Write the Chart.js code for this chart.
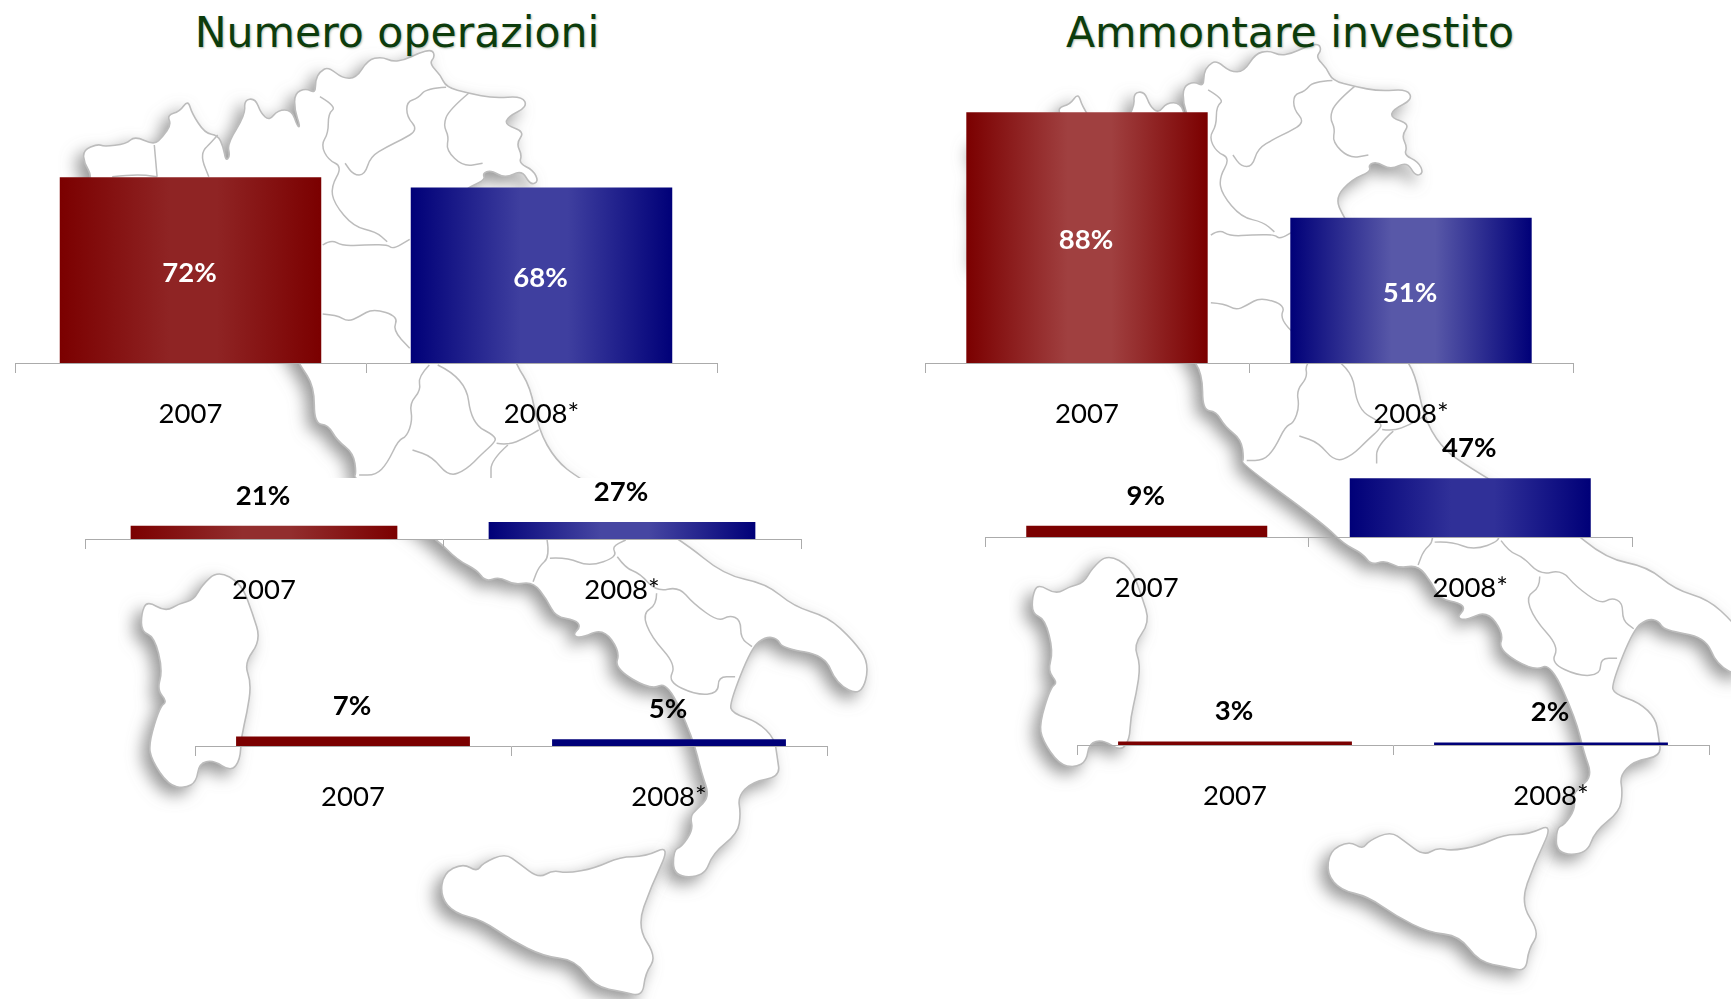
<!DOCTYPE html>
<html lang="it">
<head>
<meta charset="utf-8">
<title>Numero operazioni / Ammontare investito</title>
<script src="https://cdn.jsdelivr.net/npm/chart.js@4"></script>
<style>
  html,body{margin:0;padding:0;background:#fff;width:1731px;height:999px;overflow:hidden}
  #stage{position:relative;width:1731px;height:999px}
  #map{position:absolute;left:0;top:0}
  canvas{position:absolute}
  .title{position:absolute;top:2px;height:60px;line-height:60px;width:800px;text-align:center;
    font-family:"DejaVu Sans",sans-serif;font-size:42.6px;color:#0c3c0c;
    text-shadow:1px 1px 2px rgba(120,140,120,.55)}
</style>
</head>
<body>
<div id="stage">
  <svg id="map" width="1731" height="999" xmlns="http://www.w3.org/2000/svg"></svg>
  <div class="title" style="left:-3px">Numero operazioni</div>
  <div class="title" style="left:890px">Ammontare investito</div>
</div>
<script>
// ---------- data ----------
const categories = ['2007', '2008*'];
const numeroNord = [72, 68];
const numeroCentro = [21, 27];
const numeroSud = [7, 5];
const ammontareNord = [88, 51];
const ammontareCentro = [9, 47];
const ammontareSud = [3, 2];

// ---------- panel layout and style (separate from the data) ----------
const RED = '#7b0000', BLUE = '#000078';
const panels = [
  {v:numeroNord,     x0:15,   x1:717,  axis:363, h:258, inside:true,  bar:.745,mid:['#8f2424','#3f3f9f']},
  {v:numeroCentro,   x0:85,   x1:801,  axis:539, h:63,  inside:false, bar:.745,mid:['#922e2e','#4646a2']},
  {v:numeroSud,      x0:195,  x1:827,  axis:746, h:135, inside:false, bar:.74, mid:[RED,BLUE]},
  {v:ammontareNord,  x0:925,  x1:1573, axis:363, h:285, inside:true,  bar:.745,mid:['#a04040','#5858a8']},
  {v:ammontareCentro,x0:985,  x1:1632, axis:537, h:125, inside:false, bar:.745,mid:[RED,'#303098']},
  {v:ammontareSud,   x0:1077, x1:1709, axis:745, h:120, inside:false, bar:.74, mid:[RED,BLUE]}
];
const AXIS_BOX = 70, PAD = 1;

// ---------- decorative map backdrop ----------
const Z1 = (x,y)=>[x/1.782, y/3];
const Z2 = (x,y)=>[x/1.782, 480+y/3];
const parse = (s,f)=>s.trim().split(/\s+/).map(p=>{const [a,b]=p.split(',').map(Number);return f(a,b);});
function smooth(pts,closed){
  const m=(a,b)=>[(a[0]+b[0])/2,(a[1]+b[1])/2], f=n=>n.toFixed(1);
  if(closed){
    let s=m(pts[pts.length-1],pts[0]), d=`M${f(s[0])} ${f(s[1])}`;
    pts.forEach((p,i)=>{const e=m(p,pts[(i+1)%pts.length]);d+=`Q${f(p[0])} ${f(p[1])} ${f(e[0])} ${f(e[1])}`;});
    return d+'Z';
  }
  let d=`M${f(pts[0][0])} ${f(pts[0][1])}`;
  for(let i=1;i<pts.length-1;i++){const e=m(pts[i],pts[i+1]);d+=`Q${f(pts[i][0])} ${f(pts[i][1])} ${f(e[0])} ${f(e[1])}`;}
  const l=pts[pts.length-1];return d+`L${f(l[0])} ${f(l[1])}`;
}
const mainland = [
 ...parse(`165,530 150,490 148,450 175,432 185,440 225,432 240,408 275,435 290,410 305,375 298,345 320,335 335,300 342,340 365,400 388,405 398,440 402,482 410,470 405,430 437,345 435,300 455,295 465,340 480,362 495,330 520,330 530,380 535,380 525,330 525,280 545,265 562,280 562,240 570,215 585,200 610,235 635,235 655,180 680,170 700,185 720,180 745,160 770,148 775,170 765,190 785,225 795,262 835,280 880,295 930,288 940,320 905,350 900,375 935,395 920,430 930,465 925,490 950,510 960,545 945,555 930,510 900,535 875,510 860,520 865,540 830,565 800,620 815,680 860,800 900,1000 920,1095 945,1160 960,1290 990,1380 1030,1434`,Z1),
 ...parse(`1215,180 1290,285 1365,310 1415,380 1475,410 1520,480 1550,550 1535,650 1490,610 1470,525 1395,505 1385,475 1365,470 1340,500 1300,670 1305,700 1350,725 1380,775 1385,830 1390,890 1340,905 1315,950 1320,1000 1315,1060 1270,1120 1255,1190 1200,1190 1200,1110 1215,1100 1235,1050 1230,1010 1240,990 1265,950 1250,880 1235,775 1190,605 1160,630 1095,565 1105,515 1075,445 1035,475 1020,465 1035,440 1025,420 990,410 975,360 950,305 915,315 890,290 865,305 850,270 815,240 780,180`,Z2),
 ...parse(`630,1434 635,1420 630,1360 600,1320 585,1275 560,1270 560,1160 535,1095 500,1000 400,800 300,720 200,790 150,850 160,690 150,610`,Z1)
];
const sardinia = parse(`388,272 430,310 450,400 465,480 435,550 448,610 440,700 430,770 428,840 412,875 380,840 355,850 350,905 330,925 300,915 270,840 265,790 285,680 298,665 280,630 290,570 275,470 252,455 252,400 262,362 295,395 320,370 345,360 360,315`,Z2);
const sicily = parse(`1195,1095 1150,1130 1105,1130 1060,1165 1010,1180 985,1170 960,1195 925,1150 900,1120 860,1150 850,1175 825,1150 790,1180 785,1250 810,1300 860,1320 910,1380 970,1430 1025,1440 1060,1520 1110,1535 1145,1550 1150,1480 1170,1430 1135,1340 1160,1220`,Z2);
const borders = [
 parse(`275,435 280,530`,Z1),
 parse(`388,405 375,430 362,450 360,480 372,530`,Z1),
 parse(`570,290 600,320 585,340 585,400 572,435 585,480 610,500 590,560 595,610 630,680 670,695 690,725`,Z1),
 parse(`795,262 760,265 745,295 725,305 725,350 745,390 715,420 690,440 660,470 650,525 630,525 615,490`,Z1),
 parse(`835,280 800,330 790,375 800,410 795,450 825,500 860,490`,Z1),
 parse(`200,530 240,522 280,530`,Z1),
 parse(`575,735 590,718 610,738 650,735 690,733 700,748 730,718`,Z1),
 parse(`575,942 600,945 620,965 640,950 665,925 710,950 700,990 730,1045`,Z1),
 parse(`765,1095 745,1130 750,1170 730,1210 735,1260 725,1310 710,1320 690,1390 670,1425 640,1425`,Z1),
 parse(`780,1095 830,1135 840,1270 885,1310 880,1330 860,1360 830,1410 800,1430 770,1370 735,1350`,Z1),
 parse(`885,1330 905,1335 935,1315 960,1290`,Z1),
 parse(`905,1335 875,1380 875,1434`,Z1),
 parse(`975,180 980,230 960,260 950,305`,Z2),
 parse(`980,235 1010,232 1050,260 1100,230 1090,200 1115,180`,Z2),
 parse(`1100,230 1115,265 1140,280 1170,335 1210,320 1235,370 1280,425 1300,405 1320,420 1320,475 1340,500`,Z2),
 parse(`1170,340 1170,375 1145,400 1160,470 1205,555 1190,605 1240,645 1280,640 1280,590 1310,590`,Z2)
];
function mapGroup(transform){
  const shapes=[mainland,sardinia,sicily].map(p=>`<path d="${smooth(p,true)}" fill="#fff" stroke="#bcbcbc" stroke-width="1.6" stroke-linejoin="round" filter="url(#shadow)"/>`).join('');
  const lines=borders.map(p=>`<path d="${smooth(p,false)}" fill="none" stroke="#bcbcbc" stroke-width="1.5"/>`).join('');
  return `<g transform="${transform}">${shapes}${lines}</g>`;
}
document.getElementById('map').innerHTML =
  `<defs><filter id="shadow" x="-20%" y="-20%" width="140%" height="140%"><feDropShadow dx="-7" dy="7" stdDeviation="8" flood-color="#808080" flood-opacity=".8"/></filter></defs>`+
  mapGroup('translate(0,0)')+
  `<rect x="85" y="478" width="716" height="62" fill="#fff"/>`+
  mapGroup('translate(893,-5) scale(.985,.98)');

// ---------- value-label plugin ----------
const valueLabels = {
  id:'valueLabels',
  afterDatasetsDraw(chart,args,opts){
    const c=chart.ctx, meta=chart.getDatasetMeta(0);
    c.save();
    c.font='bold 27.5px Lato, sans-serif';
    c.textAlign='center'; c.textBaseline='middle';
    meta.data.forEach((bar,i)=>{
      const txt=chart.data.datasets[0].data[i]+'%';
      if(opts.inside){ c.fillStyle='#fff'; c.fillText(txt,bar.x-1,(bar.y+bar.base)/2+3); }
      else { c.fillStyle='#000'; c.fillText(txt,bar.x-1,bar.y-30); }
    });
    c.restore();
  }
};
Chart.register(valueLabels);

// ---------- charts ----------
const stage=document.getElementById('stage');
panels.forEach(p=>{
  const cv=document.createElement('canvas');
  const W=Math.round(p.x1-p.x0)+2*PAD, H=p.h+AXIS_BOX;
  cv.width=W; cv.height=H;
  cv.style.cssText=`left:${Math.round(p.x0)-PAD}px;top:${p.axis-p.h}px;width:${W}px;height:${H}px`;
  stage.appendChild(cv);
  const edges=[RED,BLUE];
  new Chart(cv,{
    type:'bar',
    data:{labels:categories,datasets:[{
      data:p.v,
      categoryPercentage:1,
      barPercentage:p.bar,
      borderWidth:0,
      backgroundColor(ctx){
        const i=ctx.dataIndex, chart=ctx.chart;
        if(i===undefined||!chart.chartArea) return edges[i||0];
        const sx=chart.scales.x, cx=sx.getPixelForValue(i), w=sx.width/2*p.bar/2;
        const g=chart.ctx.createLinearGradient(cx-w,0,cx+w,0);
        g.addColorStop(0,edges[i]); g.addColorStop(.42,p.mid[i]); g.addColorStop(.6,p.mid[i]); g.addColorStop(1,edges[i]);
        return g;
      }
    }]},
    options:{
      responsive:false,animation:false,devicePixelRatio:1,
      layout:{padding:{left:PAD,right:PAD,top:0,bottom:0}},
      plugins:{legend:{display:false},tooltip:{enabled:false},valueLabels:{inside:p.inside}},
      scales:{
        y:{display:false,min:0,max:100},
        x:{
          offset:true,
          afterFit(s){s.height=AXIS_BOX;},
          border:{display:true,color:'#ababab',width:1},
          grid:{display:true,drawOnChartArea:false,drawTicks:true,tickLength:10,color:'#ababab',offset:true},
          ticks:{color:'#000',padding:25,maxRotation:0,autoSkip:false,font:{family:'Lato, sans-serif',size:27.5}}
        }
      }
    }
  });
});
</script>
</body>
</html>
